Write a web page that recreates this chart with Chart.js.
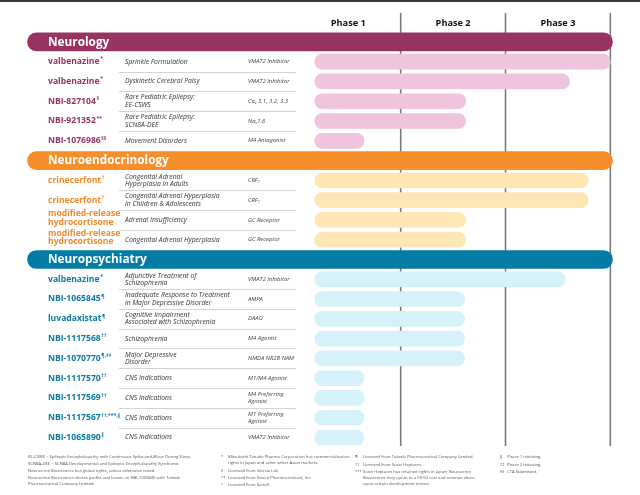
<!DOCTYPE html>
<html><head><meta charset="utf-8">
<script src="https://cdn.jsdelivr.net/npm/chart.js@4.4.1/dist/chart.umd.min.js"></script>
<style>html,body{margin:0;padding:0;background:#fff;}canvas{display:block;}</style>
</head><body>
<canvas id="c" width="640" height="495"></canvas>
<script>
// ---------- DATA ----------
const groupNames = ['Neurology', 'Neuroendocrinology', 'Neuropsychiatry'];
const groupSizes = [5, 4, 9];
const phaseLabels = ['Phase 1', 'Phase 2', 'Phase 3'];
const phaseBoundaries = [1, 2, 3];

const drugNames = ['valbenazine', 'valbenazine', 'NBI-827104', 'NBI-921352', 'NBI-1076986',
  'crinecerfont', 'crinecerfont', 'modified-release\nhydrocortisone', 'modified-release\nhydrocortisone',
  'valbenazine', 'NBI-1065845', 'luvadaxistat', 'NBI-1117568', 'NBI-1070770', 'NBI-1117570',
  'NBI-1117569', 'NBI-1117567', 'NBI-1065890'];
const drugNotes = ['*', '*', '§', '**', '§§', '†', '†', '', '', '*', '¶', '¶', '††', '¶,‡‡', '††', '††', '††,***,‖', '‖'];
const indications = ['Sprinkle Formulation', 'Dyskinetic Cerebral Palsy', 'Rare Pediatric Epilepsy:\nEE-CSWS',
  'Rare Pediatric Epilepsy:\nSCN8A-DEE', 'Movement Disorders',
  'Congenital Adrenal\nHyperplasia in Adults', 'Congenital Adrenal Hyperplasia\nin Children & Adolescents',
  'Adrenal Insufficiency', 'Congenital Adrenal Hyperplasia',
  'Adjunctive Treatment of\nSchizophrenia', 'Inadequate Response to Treatment\nin Major Depressive Disorder',
  'Cognitive Impairment\nAssociated with Schizophrenia', 'Schizophrenia', 'Major Depressive\nDisorder',
  'CNS Indications', 'CNS Indications', 'CNS Indications', 'CNS Indications'];
const mechanisms = ['VMAT2 Inhibitor', 'VMAT2 Inhibitor', 'Ca_v 3.1, 3.2, 3.3', 'Na_v1.6', 'M4 Antagonist',
  'CRF_1', 'CRF_1', 'GC Receptor', 'GC Receptor',
  'VMAT2 Inhibitor', 'AMPA', 'DAAO', 'M4 Agonist', 'NMDA NR2B NAM',
  'M1/M4 Agonist', 'M4 Preferring\nAgonist', 'M1 Preferring\nAgonist', 'VMAT2 Inhibitor'];
// progress in phase units (0 = start of Phase 1, 3 = end of Phase 3)
const barStart = 0.18;
const barEnd = [3.0, 2.61, 1.62, 1.62, 0.65,
  2.79, 2.79, 1.62, 1.62,
  2.57, 1.61, 1.61, 1.61, 1.61, 0.65, 0.65, 0.65, 0.65];
const bandRange = [-2.56, 3.02];

const footCol1 = ['EE-CSWS = Epileptic Encephalopathy with Continuous Spike-and-Wave During Sleep.',
  'SCN8A-DEE = SCN8A Developmental and Epileptic Encephalopathy Syndrome.',
  'Neurocrine Biosciences has global rights, unless otherwise noted.',
  'Neurocrine Biosciences shares profits and losses on NBI-1065845 with Takeda',
  'Pharmaceutical Company Limited.'];
const footCol2 = [['*', 'Mitsubishi Tanabe Pharma Corporation has commercialization'], ['', 'rights in Japan and other select Asian markets.'],
  ['§', 'Licensed from Idorsia Ltd.'], ['**', 'Licensed from Xenon Pharmaceuticals, Inc.'], ['†', 'Licensed from Sanofi.']];
const footCol3 = [['¶', 'Licensed from Takeda Pharmaceutical Company Limited.'], ['††', 'Licensed from Sosei Heptares.'],
  ['***', 'Sosei Heptares has retained rights in Japan; Neurocrine'], ['', 'Biosciences may opt-in to a 50:50 cost and revenue share'],
  ['', 'upon certain development events.']];
const footCol4 = [['‖', 'Phase 1 initiating.'], ['‡‡', 'Phase 2 initiating.'], ['§§', 'CTA Submitted.']];

// ---------- STYLE ----------
const groupDark = ['#983462', '#F68E2B', '#027CA5'];
const groupLight = ['#F0C4DE', '#FEE7B5', '#D5F1F9'];
const groupText = ['#983462', '#F4892A', '#0A7BA3'];
const FONT = '"Open Sans", "DejaVu Sans", sans-serif';

// ---------- ROWS ----------
const rows = [];
let di = 0;
groupNames.forEach((g, gi) => {
  rows.push({ type: 'group', g: gi });
  for (let k = 0; k < groupSizes[gi]; k++) rows.push({ type: 'drug', g: gi, i: di++ });
});

const headerData = rows.map(r => r.type === 'group' ? bandRange.slice() : null);
const drugData = rows.map(r => r.type === 'drug' ? [barStart, barEnd[r.i]] : null);
const headerColors = rows.map(r => groupDark[r.g]);
const drugColors = rows.map(r => groupLight[r.g]);

function drawSubText(ctx, str, x, y, size) {
  const parts = [];
  for (let k = 0; k < str.length; k++) {
    if (str[k] === '_' && k + 1 < str.length) { parts.push([str[k + 1], true]); k++; }
    else parts.push([str[k], false]);
  }
  let cx = x;
  parts.forEach(([ch, sub]) => {
    ctx.font = 'italic ' + (sub ? size * 0.65 : size) + 'px ' + FONT;
    ctx.fillText(ch, cx, sub ? y + 1.5 : y);
    cx += ctx.measureText(ch).width;
  });
}

const decor = {
  id: 'decor',
  beforeDatasetsDraw(chart) {
    const { ctx, scales: { x, y } } = chart;
    ctx.save();
    ctx.fillStyle = '#3a3a3a';
    ctx.fillRect(0, 0, 640, 2);
    ctx.strokeStyle = '#7a7a7a';
    ctx.lineWidth = 1.6;
    phaseBoundaries.forEach(v => {
      const px = x.getPixelForValue(v);
      ctx.beginPath(); ctx.moveTo(px, 13); ctx.lineTo(px, 446); ctx.stroke();
    });
    ctx.fillStyle = '#111';
    ctx.font = 'bold 9.2px ' + FONT;
    ctx.textAlign = 'center'; ctx.textBaseline = 'middle';
    phaseLabels.forEach((t, k) => ctx.fillText(t, x.getPixelForValue(k + 0.5), 23));
    ctx.strokeStyle = '#d4d4d4';
    ctx.lineWidth = 1.2;
    for (let k = 0; k < rows.length - 1; k++) {
      if (rows[k].type === 'drug' && rows[k + 1].type === 'drug') {
        const yy = Math.round((y.getPixelForValue(k) + y.getPixelForValue(k + 1)) / 2) + 0.5;
        ctx.beginPath(); ctx.moveTo(119, yy); ctx.lineTo(296, yy); ctx.stroke();
      }
    }
    ctx.restore();
  },
  afterDatasetsDraw(chart) {
    const { ctx, scales: { y } } = chart;
    ctx.save();
    ctx.textBaseline = 'middle';
    ctx.textAlign = 'left';
    rows.forEach((r, k) => {
      const cy = y.getPixelForValue(k);
      if (r.type === 'group') {
        ctx.fillStyle = '#ffffff';
        ctx.font = 'bold 11.8px ' + FONT;
        ctx.fillText(groupNames[r.g], 48, cy + 0.5);
        return;
      }
      ctx.fillStyle = groupText[r.g];
      const nameLines = drugNames[r.i].split('\n');
      nameLines.forEach((ln, li) => {
        const ly = nameLines.length === 1 ? cy : cy - 6 + li * 8.2;
        ctx.font = 'bold 8.6px ' + FONT;
        ctx.fillText(ln, 48, ly);
        if (li === nameLines.length - 1 && drugNotes[r.i]) {
          const w = ctx.measureText(ln).width;
          ctx.font = 'bold 5px ' + FONT;
          ctx.fillText(drugNotes[r.i], 48 + w + 0.6, ly - 2.6);
        }
      });
      ctx.fillStyle = '#333';
      ctx.font = 'italic 6.8px ' + FONT;
      const indLines = indications[r.i].split('\n');
      indLines.forEach((ln, li) => {
        const ly = indLines.length === 1 ? cy : cy - 3.7 + li * 7.4;
        ctx.fillText(ln, 125, ly);
      });
      ctx.fillStyle = '#444';
      const mLines = mechanisms[r.i].split('\n');
      mLines.forEach((ln, li) => {
        const ly = mLines.length === 1 ? cy : cy - 3.7 + li * 7.4;
        drawSubText(ctx, ln, 248, ly, 5.9);
      });
    });
    ctx.fillStyle = '#555';
    ctx.font = '4.2px ' + FONT;
    const fy = [457, 464, 471, 478, 484];
    footCol1.forEach((t, k) => ctx.fillText(t, 28, fy[k]));
    const fy2 = [457, 463, 471, 478, 485];
    footCol2.forEach(([m, t], k) => { ctx.fillText(m, 221, fy2[k]); ctx.fillText(t, 228, fy2[k]); });
    const fy3 = [457, 465, 472, 478, 484];
    footCol3.forEach(([m, t], k) => { ctx.fillText(m, 355, fy3[k]); ctx.fillText(t, 363, fy3[k]); });
    const fy4 = [457, 465, 472];
    footCol4.forEach(([m, t], k) => { ctx.fillText(m, 500, fy4[k]); ctx.fillText(t, 507, fy4[k]); });
    ctx.restore();
  }
};

new Chart(document.getElementById('c').getContext('2d'), {
  type: 'bar',
  data: {
    labels: rows.map((r, k) => r.type === 'group' ? groupNames[r.g] : drugNames[r.i] + ' #' + k),
    datasets: [
      { data: headerData, backgroundColor: headerColors, barThickness: 18, borderRadius: 9,
        borderSkipped: false, grouped: false, clip: false },
      { data: drugData, backgroundColor: drugColors, barThickness: 15, borderRadius: 7.5,
        borderSkipped: false, grouped: false }
    ]
  },
  options: {
    indexAxis: 'y',
    responsive: false,
    animation: false,
    devicePixelRatio: 1,
    layout: { padding: { top: 32, bottom: 47.6, left: 0, right: 0 } },
    scales: {
      x: { type: 'linear', min: -2.823, max: 3.283, display: false },
      y: { type: 'category', display: false, offset: true }
    },
    plugins: { legend: { display: false }, tooltip: { enabled: false } }
  },
  plugins: [decor]
});
</script>
</body></html>
